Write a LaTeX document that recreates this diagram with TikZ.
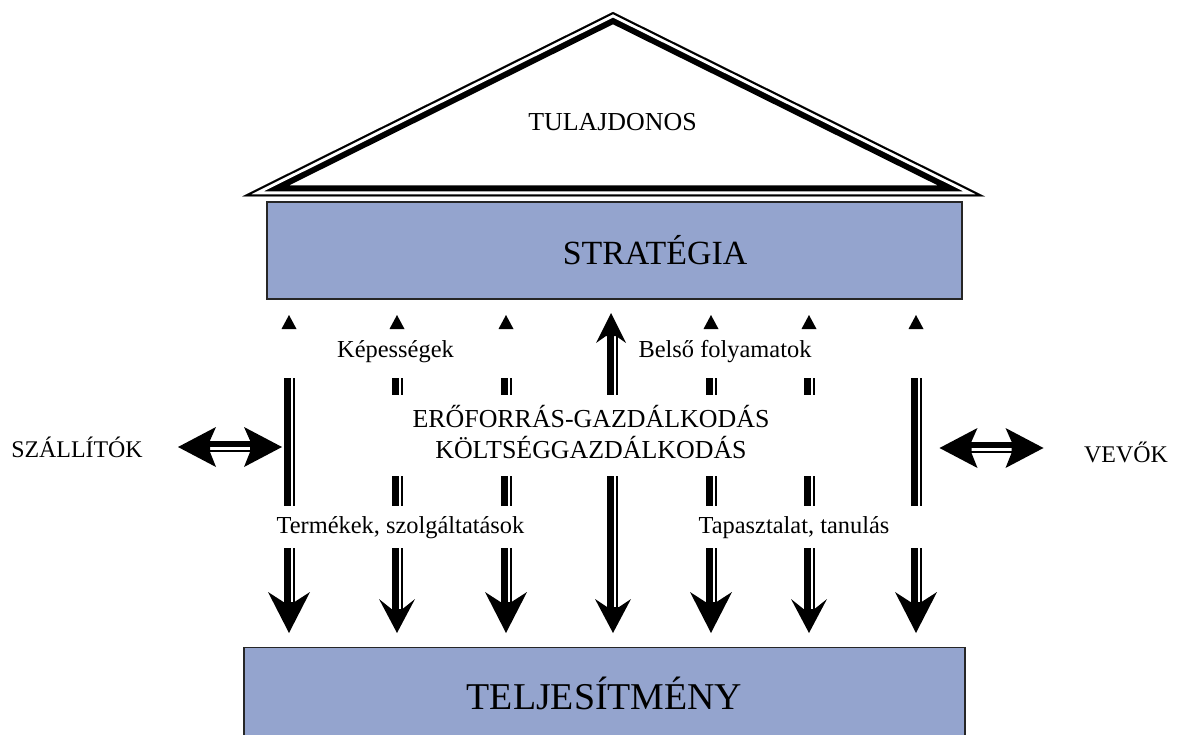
\documentclass[tikz,border=0pt]{standalone}
\usepackage{fontspec}
\setmainfont{Liberation Serif}
\definecolor{boxblue}{RGB}{148,164,206}
\begin{document}
\begin{tikzpicture}[x=1bp,y=-1bp,
  lbl/.style={font=\fontsize{24.5}{28}\selectfont, inner sep=0pt},
  caps/.style={font=\fontsize{26}{32}\selectfont, inner sep=0pt, align=center},
  bluebox/.style={draw=black!85, line width=1.4bp, fill=boxblue, inner sep=0pt},
  dblarrow/.pic={
    \fill (-52,0) -- (-14,-20) -- (-20,-6.5) -- (-20,5) -- (-14,20) -- cycle;
    \fill (52,0) -- (14,-20) -- (20,-6.5) -- (20,5) -- (14,20) -- cycle;
    \fill (-21,-6.5) rectangle (21,-0.5);
    \fill (-21,2.5) rectangle (21,5);
  }]
\useasboundingbox (0,0) rectangle (1182,735);
\clip (0,0) rectangle (1182,735);

% roof
\coordinate (apex) at (613,12);
\coordinate (rl) at (242,196.5);
\coordinate (rr) at (985,196.5);
\fill[white] (apex)--(rl)--(rr)--cycle;
\begin{scope}
  \clip (apex)--(rl)--(rr)--cycle;
  \draw[line width=22bp, line join=miter] (apex)--(rl)--(rr)--cycle;
  \draw[white, line width=10bp, line join=miter] (apex)--(rl)--(rr)--cycle;
  \draw[line width=4bp, line join=miter] (apex)--(rl)--(rr)--cycle;
\end{scope}
\node[caps] (owner) at (612.5,122) {TULAJDONOS};

% strategy and performance boxes
\node[bluebox, minimum width=695bp, minimum height=97bp] (strat) at (614.5,250.5) {};
\node[font=\fontsize{34}{40}\selectfont, inner sep=0pt] (stratlbl) at (655,250) {STRATÉGIA};
\node[bluebox, anchor=north, minimum width=721bp, minimum height=92bp,
      font=\fontsize{38}{44}\selectfont] (telj) at (604.5,647) {TELJESÍTMÉNY};

% vertical columns
\foreach \cx/\w/\l in {289/42/41, 397/36/34, 506/42/41, 711/42/41, 809/36/34, 916/42/41} {
  \fill (\cx,315) -- (\cx+7.5,329) -- (\cx-7.5,329) -- cycle;
  \fill (\cx-5.5,333) rectangle (\cx+1.5,633-\l+12);
  \fill (\cx+3.5,333) rectangle (\cx+5.5,633-\l+12);
  \fill (\cx,633) -- (\cx-\w/2,633-\l) -- (\cx-5.5,633-\l+10)
        -- (\cx+5.5,633-\l+10) -- (\cx+\w/2,633-\l) -- cycle;
}
% middle column, arrow both ways
\fill (611,313) -- (626,343) -- (616,336) -- (606,336) -- (596,343) -- cycle;
\fill (607,336) rectangle (614,610);
\fill (616,336) rectangle (618,610);
\fill (613,633) -- (595,599) -- (607,607) -- (619,607) -- (631,599) -- cycle;

% gaps behind the labels
\fill[white] (276,330) rectangle (530,378);
\fill[white] (628,330) rectangle (932,378);
\fill[white] (380,395) rectangle (832,476);
\fill[white] (276,506) rectangle (522,548);
\fill[white] (700,506) rectangle (932,548);

% labels
\node[lbl] (kep) at (395.5,352) {Képességek};
\node[lbl] (bel) at (725,352) {Belső folyamatok};
\node[caps] (ero) at (591,432) {ERŐFORRÁS-GAZDÁLKODÁS\\KÖLTSÉGGAZDÁLKODÁS};
\node[lbl] (ter) at (400.5,528) {Termékek, szolgáltatások};
\node[lbl] (tap) at (794,528) {Tapasztalat, tanulás};
\node[lbl, font=\fontsize{24}{28}\selectfont] (szal) at (77,447) {SZÁLLÍTÓK};
\node[lbl, font=\fontsize{24}{28}\selectfont] (vevo) at (1126,452) {VEVŐK};

% side double arrows
\pic at (230,447) {dblarrow};
\pic at (991.5,448) {dblarrow};
\end{tikzpicture}
\end{document}
